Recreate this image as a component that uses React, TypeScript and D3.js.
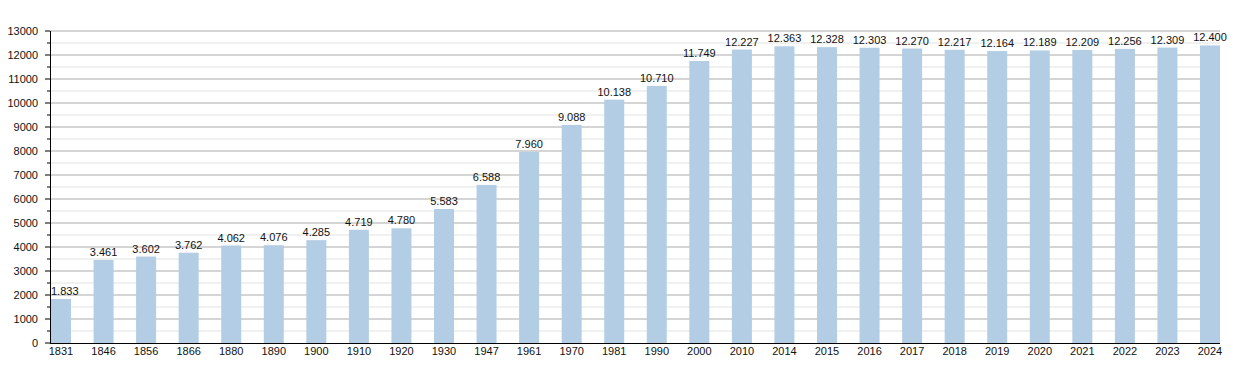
import React from "react";
import { scaleBand, scaleLinear, range } from "d3";

const width = 1250;
const height = 373;

const years = [
  "1831", "1846", "1856", "1866", "1880", "1890", "1900", "1910", "1920", "1930",
  "1947", "1961", "1970", "1981", "1990", "2000", "2010", "2014", "2015", "2016",
  "2017", "2018", "2019", "2020", "2021", "2022", "2023", "2024",
];
const population = [
  1833, 3461, 3602, 3762, 4062, 4076, 4285, 4719, 4780, 5583,
  6588, 7960, 9088, 10138, 10710, 11749, 12227, 12363, 12328, 12303,
  12270, 12217, 12164, 12189, 12209, 12256, 12309, 12400,
];
const yMax = 13000;
const majorStep = 1000;
const minorStep = 500;

const left = 50;
const right = 1220;
const top = 31;
const bottom = 343;

const fmt = (v: number) => {
  const s = String(v);
  return s.length > 3 ? s.slice(0, s.length - 3) + "." + s.slice(-3) : s;
};

export default function App() {
  const x = scaleBand<string>()
    .domain(years)
    .range([left + 1, right])
    .paddingInner(0.53)
    .paddingOuter(0);
  const y = scaleLinear().domain([0, yMax]).range([bottom, top]);

  const majors = range(0, yMax + 1, majorStep);
  const minors = range(minorStep, yMax, majorStep);
  const font = "'Liberation Sans', Arial, sans-serif";

  return (
    <svg
      width={width}
      height={height}
      style={{ position: "absolute", left: 0, top: 0 }}
      fontFamily={font}
    >
      <rect width={width} height={height} fill="white" />
      {/* minor grid */}
      {minors.map((v) => (
        <line key={"m" + v} x1={left} x2={right} y1={y(v)} y2={y(v)} stroke="#e2e2e2" />
      ))}
      {/* major grid */}
      {majors.slice(1).map((v) => (
        <line key={"g" + v} x1={left} x2={right} y1={y(v)} y2={y(v)} stroke="#aaaaaa" />
      ))}
      {/* bars */}
      {years.map((yr, i) => (
        <rect
          key={yr}
          x={x(yr)}
          y={y(population[i])}
          width={x.bandwidth()}
          height={bottom - y(population[i])}
          fill="#b3cde4"
        />
      ))}
      {/* value labels (kept clear of the y axis) */}
      {years.map((yr, i) => {
        const cx = (x(yr) ?? 0) + x.bandwidth() / 2;
        const clamp = cx - 15 < left;
        return (
          <text
            key={"v" + yr}
            x={clamp ? left + 1 : cx}
            y={y(population[i]) - 4}
            textAnchor={clamp ? "start" : "middle"}
            fontSize={11}
            fill="#111"
          >
            {fmt(population[i])}
          </text>
        );
      })}
      {/* y axis */}
      <line x1={left + 0.5} x2={left + 0.5} y1={top} y2={bottom} stroke="black" />
      {majors.map((v) => (
        <g key={"t" + v}>
          <line x1={left - 5} x2={left} y1={y(v)} y2={y(v)} stroke="black" />
          <text x={left - 12} y={y(v) + 4} textAnchor="end" fontSize={11} fill="#111">
            {v}
          </text>
        </g>
      ))}
      {minors.map((v) => (
        <line key={"mt" + v} x1={left - 3} x2={left} y1={y(v)} y2={y(v)} stroke="black" />
      ))}
      {/* x axis */}
      <line x1={left} x2={right} y1={bottom + 0.5} y2={bottom + 0.5} stroke="black" />
      {years.map((yr) => (
        <text
          key={"x" + yr}
          x={(x(yr) ?? 0) + x.bandwidth() / 2}
          y={bottom + 12}
          textAnchor="middle"
          fontSize={11}
          fill="#111"
        >
          {yr}
        </text>
      ))}
    </svg>
  );
}
